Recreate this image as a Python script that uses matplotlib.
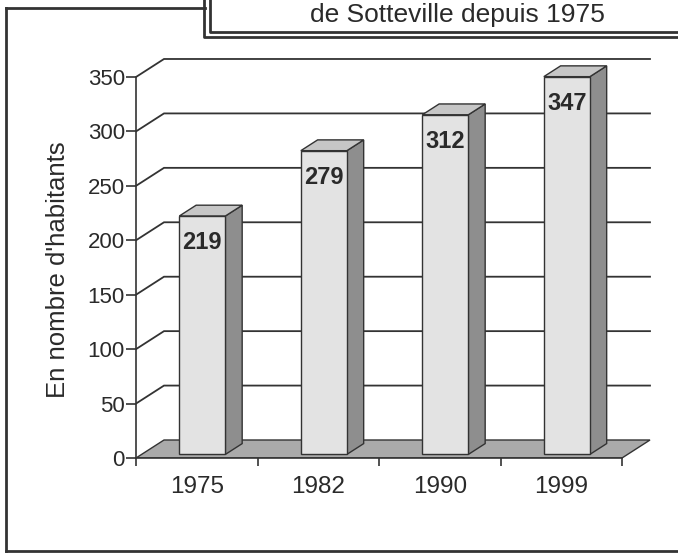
import matplotlib.pyplot as plt
from matplotlib.patches import Polygon
from matplotlib.lines import Line2D

# data
years = ['1975', '1982', '1990', '1999']
habitants = [219, 279, 312, 347]
y_ticks = [0, 50, 100, 150, 200, 250, 300, 350]
title = "de Sotteville depuis 1975"
ylabel = "En nombre d'habitants"

W, H = 678, 553
fig = plt.figure(figsize=(W / 100, H / 100), dpi=100)
plt.rcParams['font.family'] = ['Liberation Sans', 'DejaVu Sans']

# axes placed in pixel terms (front plane of the fake 3D chart)
x0, y0, x1, y1 = 136, 458, 660, 50
ax = fig.add_axes([x0 / W, (H - y0) / H, (x1 - x0) / W, (y0 - y1) / H])
px_per_cat = 121.5
px_per_unit = 1.0886
ax.set_xlim(0, (x1 - x0) / px_per_cat)
ax.set_ylim(0, (y0 - y1) / px_per_unit)

n = len(years)
ink = '#333333'
txt = '#2a2a2a'

# depth vector of the chart (data units)
DX = 28 / px_per_cat
DY = 18 / px_per_unit

# floor
floor = Polygon([(0, 0), (n, 0), (n + DX, DY), (DX, DY)], closed=True,
                facecolor='#aaaaaa', edgecolor=ink, lw=1.0, zorder=1)
ax.add_patch(floor)

# back wall gridlines with diagonal connectors
for v in y_ticks[1:]:
    ax.plot([0, DX, n + DX], [v, v + DY, v + DY], color=ink, lw=1.3,
            zorder=1, solid_joinstyle='miter')

# bars
bw = 0.379
fx, fy = 0.2 * DX, 0.2 * DY
bdx, bdy = 0.6 * DX, 0.6 * DY
for i, v in enumerate(habitants):
    c = i + 0.5 + fx
    l, r = c - bw / 2, c + bw / 2
    b, t = fy, v + fy
    front = Polygon([(l, b), (r, b), (r, t), (l, t)], closed=True,
                    facecolor='#e3e3e3', edgecolor=ink, lw=1.0, zorder=3)
    side = Polygon([(r, b), (r + bdx, b + bdy), (r + bdx, t + bdy), (r, t)],
                   closed=True, facecolor='#8e8e8e', edgecolor=ink, lw=1.0,
                   zorder=3)
    top = Polygon([(l, t), (r, t), (r + bdx, t + bdy), (l + bdx, t + bdy)],
                  closed=True, facecolor='#c6c6c6', edgecolor=ink, lw=1.0,
                  zorder=3)
    for p in (side, top, front):
        ax.add_patch(p)
    ax.annotate(str(v), xy=(c, t), xytext=(0, -19), textcoords='offset points',
                ha='center', va='center', fontsize=17, fontweight='bold',
                color=txt, zorder=4)

# axes styling
for s in ('top', 'right'):
    ax.spines[s].set_visible(False)
ax.spines['left'].set_bounds(0, y_ticks[-1])
ax.spines['bottom'].set_bounds(0, n)
for s in ('left', 'bottom'):
    ax.spines[s].set_color(ink)
    ax.spines[s].set_linewidth(1.2)
    ax.spines[s].set_zorder(2)

ax.set_yticks(y_ticks)
ax.set_yticklabels([str(t) for t in y_ticks])
ax.tick_params(axis='y', length=7, width=1.2, color=ink, pad=1,
               labelsize=16, labelcolor=txt)

ax.set_xticks(range(n + 1))
ax.set_xticklabels([])
ax.set_xticks([i + 0.5 for i in range(n)], minor=True)
ax.set_xticklabels(years, minor=True)
ax.tick_params(axis='x', which='major', length=6, width=1.2, color=ink)
ax.tick_params(axis='x', which='minor', length=0, pad=13, labelsize=17.5,
               labelcolor=txt)

ax.set_ylabel(ylabel, fontsize=18.5, color=txt)
ax.yaxis.set_label_coords((70 - x0) / (x1 - x0), (y0 - 270) / (y0 - y1))
ax.patch.set_visible(False)


# frames drawn in figure pixel space
def line(xs, ys, lw=2.0):
    fig.add_artist(Line2D([x / W for x in xs], [1 - y / H for y in ys],
                          color=ink, lw=lw, transform=fig.transFigure))


line([6, 6], [8, 551])
line([6, 205], [8, 8])
line([6, W + 5], [551, 551])
line([204, 204, W + 5], [-5, 37, 37])
line([210, 210, W + 5], [-5, 32, 32])

fig.text(457 / W, 1 - 22 / H, title, ha='center', va='baseline',
         fontsize=19, color=txt)

fig.savefig('out.png', dpi=100)
